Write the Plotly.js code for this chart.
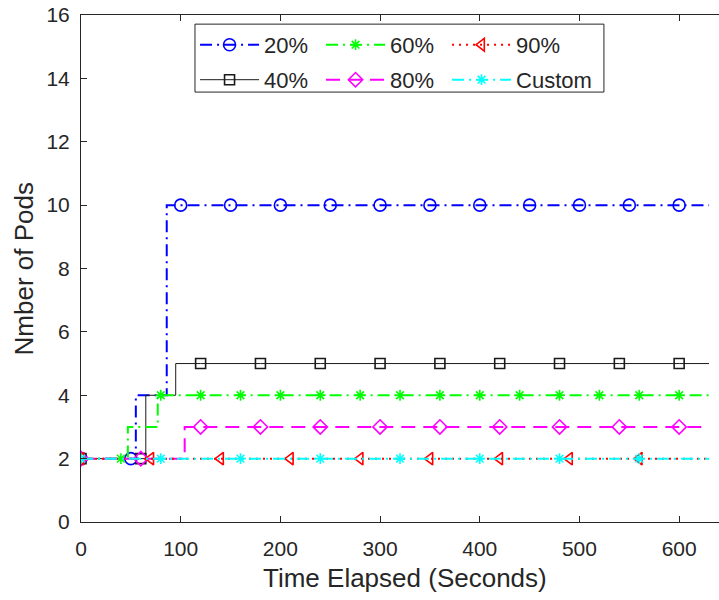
<!DOCTYPE html>
<html>
<head>
<meta charset="utf-8">
<script src="https://cdn.plot.ly/plotly-3.0.1.min.js"></script>
<style>
  html, body { margin: 0; padding: 0; overflow: hidden; background: #fff; }
  #chart { width: 740px; height: 600px; }
</style>
</head>
<body>
<div id="chart"></div>
<script>
// Number of pods over time for each scaling threshold (step data, seconds)
const time20 = [0, 50, 55, 86, 100, 150, 200, 250, 300, 350, 400, 450, 500, 550, 600, 630];
const pods20 = [2, 2, 4, 10, 10, 10, 10, 10, 10, 10, 10, 10, 10, 10, 10, 10];
const marks20 = [0, 50, 100, 150, 200, 250, 300, 350, 400, 450, 500, 550, 600];

const time40 = [0, 60, 65, 95, 120, 180, 240, 300, 360, 420, 480, 540, 600, 630];
const pods40 = [2, 2, 4, 5, 5, 5, 5, 5, 5, 5, 5, 5, 5, 5];
const marks40 = [0, 60, 120, 180, 240, 300, 360, 420, 480, 540, 600];

const time60 = [0, 40, 47, 77, 80, 120, 160, 200, 240, 280, 320, 360, 400, 440, 480, 520, 560, 600, 630];
const pods60 = [2, 2, 3, 4, 4, 4, 4, 4, 4, 4, 4, 4, 4, 4, 4, 4, 4, 4, 4];
const marks60 = [0, 40, 80, 120, 160, 200, 240, 280, 320, 360, 400, 440, 480, 520, 560, 600];

const time80 = [0, 60, 104, 120, 180, 240, 300, 360, 420, 480, 540, 600, 630];
const pods80 = [2, 2, 3, 3, 3, 3, 3, 3, 3, 3, 3, 3, 3];
const marks80 = [0, 60, 120, 180, 240, 300, 360, 420, 480, 540, 600];

const time90 = [0, 70, 140, 210, 280, 350, 420, 490, 560, 630];
const pods90 = [2, 2, 2, 2, 2, 2, 2, 2, 2, 2];
const marks90 = [0, 70, 140, 210, 280, 350, 420, 490, 560];

const timeCustom = [0, 80, 160, 240, 320, 400, 480, 560, 630];
const podsCustom = [2, 2, 2, 2, 2, 2, 2, 2, 2];
const marksCustom = [0, 80, 160, 240, 320, 400, 480, 560];

const xTicks = [0, 100, 200, 300, 400, 500, 600];
const yTicks = [0, 2, 4, 6, 8, 10, 12, 14, 16];

const FONT = 'Liberation Sans, Arial, Helvetica, sans-serif';
const INK = '#262626';
const NONE = 'rgba(0,0,0,0)';

// A stepped line whose markers sit only on the listed sample times
function stepTrace(name, t, p, marks, color, dash, width, symbol, size, legend) {
  const mc = t.map(v => marks.includes(v) ? color : NONE);
  return {
    type: 'scatter', mode: 'lines+markers', name: name, legend: legend,
    x: t, y: p,
    line: { shape: 'hv', color: color, width: width, dash: dash },
    marker: { symbol: symbol, size: size, color: mc, line: { color: mc, width: 1.6 } },
    hoverinfo: 'skip'
  };
}

const DASHDOT = '12px,5px,2px,5px';
const traces = [
  stepTrace('20%', time20, pods20, marks20, '#0000ff', DASHDOT, 2, 'circle-open', 12, 'legend'),
  stepTrace('40%', time40, pods40, marks40, '#1a1a1a', 'solid', 1, 'square-open', 10, 'legend2'),
  stepTrace('60%', time60, pods60, marks60, '#00ff00', DASHDOT, 2, 'asterisk-open', 9, 'legend'),
  stepTrace('80%', time80, pods80, marks80, '#ff00ff', '14px,8px', 2, 'diamond-open', 11, 'legend2'),
  stepTrace('90%', time90, pods90, marks90, '#ff0000', '2px,5px', 2, 'triangle-left-open', 11, 'legend'),
  stepTrace('Custom', timeCustom, podsCustom, marksCustom, '#00ffff', DASHDOT, 2, 'asterisk-open', 9, 'legend2')
];
// the last entry of each legend row needs room for its full label
traces[4].legendwidth = 90;
traces[5].legendwidth = 90;

const legendCommon = {
  orientation: 'h', xanchor: 'left', yanchor: 'middle',
  bgcolor: NONE, borderwidth: 0,
  entrywidth: 52, entrywidthmode: 'pixels', itemwidth: 59,
  font: { family: FONT, size: 22, color: INK },
  itemclick: false, itemdoubleclick: false
};

const axisCommon = {
  showline: true, linecolor: INK, linewidth: 1,
  mirror: 'ticks', ticks: 'inside', ticklen: 6, tickwidth: 1, tickcolor: INK,
  showgrid: false, zeroline: false, automargin: false,
  tickfont: { family: FONT, size: 21, color: INK },
  fixedrange: true
};

const layout = {
  width: 740, height: 600,
  margin: { l: 81, r: 11, t: 15, b: 78, autoexpand: false },
  paper_bgcolor: '#fff', plot_bgcolor: '#fff',
  showlegend: true,
  xaxis: Object.assign({}, axisCommon, { range: [0, 650], tickvals: xTicks, ticktext: xTicks.map(String), ticklabelstandoff: 8 }),
  yaxis: Object.assign({}, axisCommon, { range: [0, 16], tickvals: yTicks, ticktext: yTicks.map(String), ticklabelstandoff: 6 }),
  legend: Object.assign({}, legendCommon, { x: 0.176, y: 0.941 }),
  legend2: Object.assign({}, legendCommon, { x: 0.176, y: 0.872 }),
  shapes: [{
    type: 'rect', xref: 'paper', yref: 'paper', layer: 'above',
    x0: 0.1759, x1: 0.807, y0: 0.848, y1: 0.982,
    fillcolor: '#fff', line: { color: INK, width: 1 }
  }],
  annotations: [
    { text: 'Time Elapsed (Seconds)', xref: 'paper', yref: 'paper', x: 0.5, y: -0.11,
      xanchor: 'center', yanchor: 'middle', showarrow: false,
      font: { family: FONT, size: 26, color: INK } },
    { text: 'Nmber of Pods', xref: 'paper', yref: 'paper', x: -0.088, y: 0.5, textangle: -90,
      xanchor: 'center', yanchor: 'middle', showarrow: false,
      font: { family: FONT, size: 26, color: INK } }
  ]
};

Plotly.newPlot('chart', traces, layout, { staticPlot: true, displayModeBar: false });
</script>
</body>
</html>
